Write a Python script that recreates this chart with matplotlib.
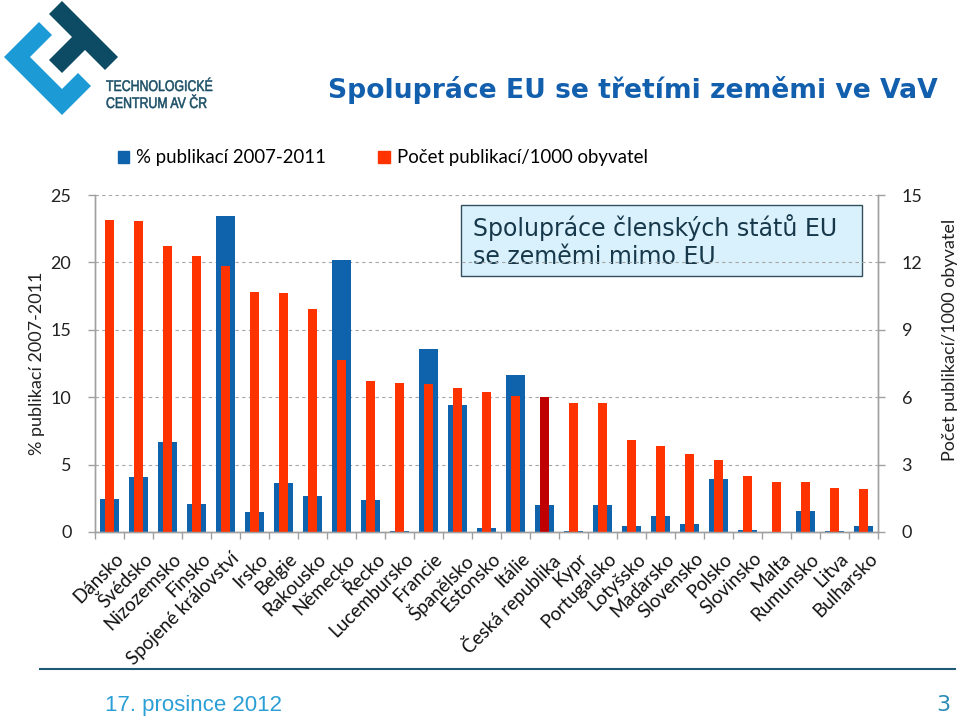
import matplotlib

matplotlib.use("Agg")

import matplotlib.pyplot as plt
import matplotlib.transforms as mtransforms
from matplotlib.font_manager import FontProperties
from matplotlib.patches import Patch, PathPatch, Polygon, Rectangle
from matplotlib.textpath import TextPath
from matplotlib.ticker import MultipleLocator, FixedLocator
import numpy as np

# Data
countries = [
    "Dánsko", "Švédsko", "Nizozemsko", "Finsko", "Spojené království",
    "Irsko", "Belgie", "Rakousko", "Německo", "Řecko", "Lucembursko",
    "Francie", "Španělsko", "Estonsko", "Itálie", "Česká republika",
    "Kypr", "Portugalsko", "Lotyšsko", "Maďarsko", "Slovensko", "Polsko",
    "Slovinsko", "Malta", "Rumunsko", "Litva", "Bulharsko",
]
pct_publications = [
    2.43, 4.08, 6.71, 2.08, 23.44, 1.46, 3.64, 2.65, 20.17, 2.38, 0.05,
    13.59, 9.41, 0.27, 11.63, 1.98, 0.10, 1.98, 0.42, 1.22, 0.57, 3.91,
    0.15, 0.0, 1.54, 0.10, 0.42,
]
per_1000 = [
    13.88, 13.83, 12.74, 12.27, 11.82, 10.68, 10.62, 9.92, 7.65, 6.70, 6.61,
    6.58, 6.43, 6.24, 6.06, 5.99, 5.76, 5.73, 4.08, 3.82, 3.49, 3.22,
    2.49, 2.24, 2.21, 1.98, 1.93,
]
highlight = "Česká republika"

label_left = "% publikací 2007-2011"
label_right = "Počet publikací/1000 obyvatel"

BLUE = "#0f62ac"
RED = "#ff3300"
DARK_RED = "#c00000"
TEAL = "#1b4f66"
LIGHT_BLUE = "#1b9ad6"
GRID = "#a6a6a6"
FONT = ["Lato", "DejaVu Sans"]

plt.rcParams["font.family"] = FONT

fig = plt.figure(figsize=(9.6, 7.2), dpi=100)

# Decorations drawn in pixel coordinates
deco = fig.add_axes([0, 0, 1, 1], zorder=-1)
deco.set_xlim(0, 960)
deco.set_ylim(720, 0)
deco.axis("off")

# Logo
deco.add_patch(Polygon(
    [(4, 57), (39, 22), (52, 35), (30, 57), (62, 89), (78, 73), (91, 86), (62, 115)],
    closed=True, color=LIGHT_BLUE, lw=0))
deco.add_patch(Polygon(
    [(49, 14), (62, 1), (118, 57), (105, 70), (85, 50), (62, 73), (49, 60), (72, 37)],
    closed=True, color="#0d4a63", lw=0))


def condensed_text(x, baseline, text, size, squeeze):
    """Draw a horizontally squeezed text as a path (pixel coordinates)."""
    path = TextPath((0, 0), text, size=size,
                    prop=FontProperties(family="Liberation Sans"))
    tr = mtransforms.Affine2D().scale(squeeze, -1).translate(x, baseline)
    deco.add_patch(PathPatch(tr.transform_path(path), color=TEAL, lw=0.4))


condensed_text(106, 91, "TECHNOLOGICKÉ", 15.4, 0.8)
condensed_text(106, 108, "CENTRUM AV ČR", 15.4, 0.8)

deco.text(938, 90, "Spolupráce EU se třetími zeměmi ve VaV",
          family=["DejaVu Sans"], fontweight="bold", fontsize=19.2,
          color="#125fae", ha="right", va="center")

# Footer
deco.plot([40, 955], [669, 669], color="#1d5a75", lw=1.5)
deco.text(105, 705, "17. prosince 2012", family=["Liberation Sans"],
          fontsize=16, color="#2a9fd6", ha="left", va="center")
deco.text(950, 705, "3", family=["DejaVu Sans"], fontsize=16,
          color="#2a8ab5", ha="right", va="center")

# Main chart
ax = fig.add_axes([95 / 960, 1 - 532 / 720, (878 - 95) / 960, (532 - 195) / 720])
ax2 = ax.twinx()

x = np.arange(len(countries))
ax.bar(x, pct_publications, width=0.66, color=BLUE, zorder=2)
red_colors = [DARK_RED if c == highlight else RED for c in countries]
ax2.bar(x, per_1000, width=0.34, color=red_colors, zorder=2)

ax.set_xlim(-0.5, len(countries) - 0.5)
ax.set_ylim(0, 25)
ax2.set_ylim(0, 15)
ax.yaxis.set_major_locator(MultipleLocator(5))
ax2.yaxis.set_major_locator(MultipleLocator(3))

ax.set_axisbelow(True)
ax.grid(axis="y", color=GRID, linestyle=(0, (3, 3)), lw=0.8)

for a in (ax, ax2):
    a.spines["top"].set_visible(False)
    for s in ("left", "right", "bottom"):
        a.spines[s].set_color("#a0a0a0")
        a.spines[s].set_linewidth(1)
    a.tick_params(axis="y", colors="#a0a0a0", labelcolor="#222222",
                  labelsize=13, length=5, width=1)

ax.tick_params(axis="y", pad=12)
ax2.tick_params(axis="y", pad=12)

ax.set_xticks(x)
ax.set_xticklabels(countries, rotation=45, ha="right", va="top",
                   rotation_mode="anchor", fontsize=13.5)
ax.tick_params(axis="x", which="major", length=0, pad=13, labelcolor="#111111")
shift = mtransforms.ScaledTranslation(5 / 100, 0, fig.dpi_scale_trans)
for lbl in ax.get_xticklabels():
    lbl.set_transform(lbl.get_transform() + shift)
ax.xaxis.set_minor_locator(FixedLocator(np.arange(-0.5, len(countries), 1)))
ax.tick_params(axis="x", which="minor", length=5, color="#a0a0a0", width=1)

ax.set_ylabel(label_left, fontsize=13, labelpad=4, color="#222222")
ax2.set_ylabel(label_right, fontsize=13, color="#222222", va="center")
ax2.yaxis.set_label_coords(1.092, 0.57)

# Annotation box
ax.add_patch(Rectangle((0.467, 0.760), 0.513, 0.211, transform=ax.transAxes,
                       facecolor="#d9f1fc", edgecolor="#34505e", lw=1, zorder=0.3))
box_font = ["DejaVu Sans"]
ax.text(0.483, 0.902, "Spolupráce členských států EU", transform=ax.transAxes,
        family=box_font, fontsize=17, color="#16384a", va="center", zorder=0.4)
ax.text(0.483, 0.816, "se zeměmi mimo EU", transform=ax.transAxes,
        family=box_font, fontsize=17, color="#16384a", va="center", zorder=0.4)

# Legend
handles = [Patch(color=BLUE, label=label_left), Patch(color=RED, label=label_right)]
fig.legend(handles=handles, loc="center left", bbox_to_anchor=(101 / 960, 1 - 158 / 720),
           ncol=2, frameon=False, fontsize=13.4, handlelength=0.6, handleheight=0.6,
           handletextpad=0.4, columnspacing=2.8)

fig.savefig("out.png", dpi=100)
